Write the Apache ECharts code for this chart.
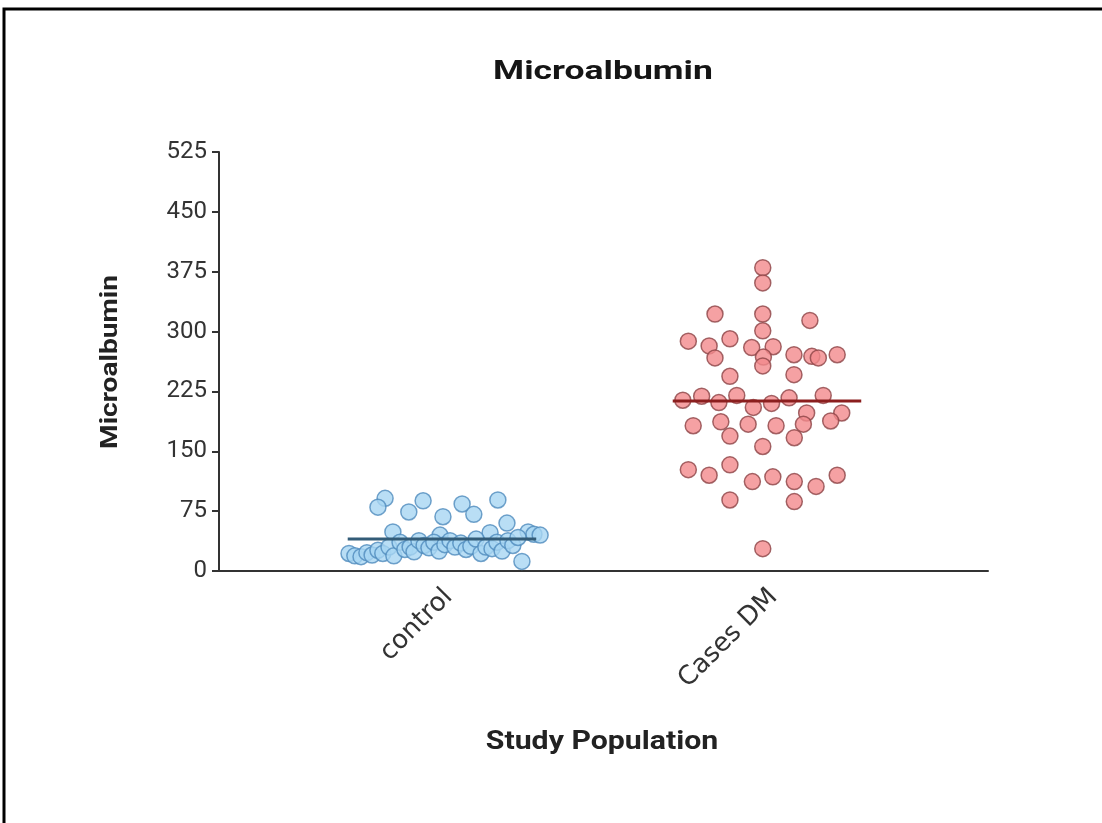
<!DOCTYPE html>
<html>
<head>
<meta charset="utf-8">
<title>Microalbumin</title>
<script src="https://cdn.jsdelivr.net/npm/echarts@6/dist/echarts.min.js"></script>
<style>
  html, body { margin: 0; padding: 0; background: #fff; }
  #chart { width: 1102px; height: 823px; }
</style>
</head>
<body>
<div id="chart"></div>
<script>
// groups on the x axis
const categories = ['control', 'Cases DM']
const yTicks = [0, 75, 150, 225, 300, 375, 450, 525]

// control group values and their horizontal jitter (fraction of a category step)
const controlValues = [
  91, 80, 88, 74, 84, 71, 68, 89, 60,
  49, 49, 46, 48, 45, 12,
  22, 19, 18, 23, 20, 26, 22, 30, 19, 36, 27, 30, 24, 38, 32, 29, 36,
  25, 33, 38, 30, 35, 27, 31, 40, 22, 30, 28, 36, 25, 38, 32, 42, 45
]
const controlJitter = [
  -0.175, -0.197, -0.058, -0.102, 0.062, 0.098, 0.003, 0.172, 0.2,
  -0.151, 0.265, 0.283, 0.148, -0.006, 0.246,
  -0.286, -0.268, -0.249, -0.231, -0.215, -0.197, -0.182, -0.163, -0.148, -0.129, -0.114, -0.098, -0.086, -0.071, -0.055, -0.04, -0.025,
  -0.009, 0.009, 0.025, 0.04, 0.058, 0.074, 0.089, 0.105, 0.12, 0.135, 0.154, 0.169, 0.185, 0.203, 0.218, 0.234, 0.302
]

// diabetic cases values and jitter
const casesValues = [
  380, 361, 322, 322, 314, 301, 288, 282, 291, 267, 280, 281, 268, 257, 271, 269, 267, 271,
  244, 246, 214, 219, 211, 220, 205, 210, 217, 220, 198, 198,
  182, 187, 184, 182, 184, 188, 169, 167, 156,
  127, 120, 133, 112, 118, 112, 106, 120, 89, 87, 28
]
const casesJitter = [
  -0.013, -0.013, -0.16, -0.013, 0.132, -0.013, -0.242, -0.178, -0.114, -0.16, -0.047, 0.019, -0.011, -0.013, 0.083, 0.138, 0.158, 0.216,
  -0.114, 0.083, -0.259, -0.201, -0.148, -0.093, -0.042, 0.014, 0.068, 0.173, 0.122, 0.23,
  -0.227, -0.142, -0.058, 0.028, 0.112, 0.196, -0.114, 0.084, -0.013,
  -0.242, -0.178, -0.114, -0.045, 0.018, 0.084, 0.151, 0.216, -0.114, 0.084, -0.013
]

const mean = arr => arr.reduce((s, v) => s + v, 0) / arr.length
const toPoints = (vals, jit, pos) => vals.map((v, i) => [pos + jit[i], v])
const meanLine = (vals, pos) => [[pos - 0.29, mean(vals)], [pos + 0.29, mean(vals)]]

const boldFont = size => `bold ${size}px Roboto`

const chart = echarts.init(document.getElementById('chart'))

chart.setOption({
  backgroundColor: '#fff',
  animation: false,
  graphic: [
    {
      // outer frame of the picture
      type: 'rect',
      x: 4,
      y: 9,
      shape: { width: 1200, height: 900 },
      style: { fill: 'none', stroke: '#000', lineWidth: 3 }
    },
    {
      // chart title (wide lettering)
      type: 'text',
      x: 603,
      y: 73,
      scaleX: 1.42,
      style: {
        text: 'Microalbumin',
        font: boldFont(25),
        fill: '#151515',
        align: 'center',
        verticalAlign: 'middle'
      }
    },
    {
      // x axis title
      type: 'text',
      x: 602,
      y: 743,
      scaleX: 1.21,
      style: {
        text: 'Study Population',
        font: boldFont(25),
        fill: '#222',
        align: 'center',
        verticalAlign: 'middle'
      }
    },
    {
      // y axis title
      type: 'text',
      x: 111,
      y: 362,
      rotation: Math.PI / 2,
      scaleX: 1.17,
      style: {
        text: 'Microalbumin',
        font: boldFont(24),
        fill: '#222',
        align: 'center',
        verticalAlign: 'middle'
      }
    }
  ],
  grid: {
    left: 219,
    right: 114,
    top: 152,
    bottom: 252
  },
  xAxis: {
    type: 'value',
    min: 0.314,
    max: 2.68,
    axisLine: { lineStyle: { color: '#333', width: 2 } },
    axisTick: { show: false },
    splitLine: { show: false },
    axisLabel: {
      customValues: [1.02, 2.02],
      rotate: 45,
      margin: 22,
      fontFamily: 'DejaVu Sans',
      fontSize: 26,
      color: '#333',
      formatter: v => categories[Math.round(v) - 1]
    }
  },
  yAxis: {
    type: 'value',
    min: 0,
    max: 525,
    interval: 75,
    axisLine: { show: true, lineStyle: { color: '#333', width: 2 } },
    axisTick: { show: true, length: 7, lineStyle: { color: '#333', width: 2 } },
    splitLine: { show: false },
    axisLabel: {
      margin: 12,
      fontFamily: 'Roboto',
      fontSize: 24,
      color: '#333',
      formatter: v => (yTicks.includes(v) ? String(v) : '')
    }
  },
  series: [
    {
      name: categories[0],
      type: 'scatter',
      symbol: 'circle',
      symbolSize: 16,
      data: toPoints(controlValues, controlJitter, 1),
      itemStyle: {
        color: '#a8d6f2',
        borderColor: '#4f8bbd',
        borderWidth: 1.5
      },
      z: 3
    },
    {
      name: categories[1],
      type: 'scatter',
      symbol: 'circle',
      symbolSize: 16,
      data: toPoints(casesValues, casesJitter, 2),
      itemStyle: {
        color: '#f2898c',
        borderColor: '#8c4446',
        borderWidth: 1.5
      },
      z: 3
    },
    {
      type: 'line',
      data: meanLine(controlValues, 1),
      symbol: 'none',
      lineStyle: { color: '#335c78', width: 3 },
      z: 4
    },
    {
      type: 'line',
      data: meanLine(casesValues, 2),
      symbol: 'none',
      lineStyle: { color: '#8b1e1e', width: 3 },
      z: 4
    }
  ]
})
</script>
</body>
</html>
